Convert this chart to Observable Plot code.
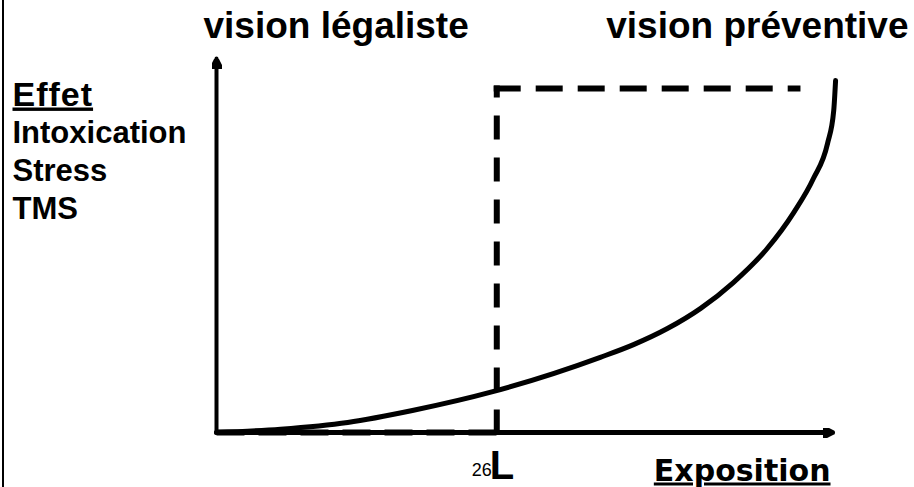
<!DOCTYPE html>
<html>
<head>
<meta charset="utf-8">
<script src="https://cdn.jsdelivr.net/npm/d3@7"></script>
<script src="https://cdn.jsdelivr.net/npm/@observablehq/plot@0.6"></script>
<style>
  html, body { margin: 0; padding: 0; background: #fff; }
  #wrap { position: relative; width: 914px; height: 487px; overflow: hidden; }
  #border { position: absolute; left: 2px; top: 0; width: 2px; height: 487px; background: #000; }
</style>
</head>
<body>
<div id="wrap"><div id="border"></div></div>
<script>
// ---- data ----
const titles = ["vision légaliste", "vision préventive"];
const effectTitle = "Effet";
const effectLabels = ["Intoxication", "Stress", "TMS"];
const xLabel = "Exposition";
const limitLabel = "L";
const slideNumber = "26";

// exposure / effect curve (preventive view)
const curveX = [0, 10.4, 21.3, 31.8, 45.0, 62.3, 67.7, 73.2, 78.6, 83.9, 89.4, 93.7, 96.9, 99.2, 100.2, 100.5];
const curveY = [0, 0.9, 2.7, 5.9, 11.0, 20.1, 23.5, 27.8, 33.2, 40.1, 49.2, 58.8, 67.9, 77.3, 86.1, 94.1];

// legal view: step at limit L
const limitX = 45.5;
const limitTop = 92.0;
const limitEnd = 94.8;

// axes extents
const axisMax = 100;

// ---- build ----
const curve = curveX.map((x, i) => ({x, y: curveY[i]}));
const stepBottom = [{x: 0, y: 0}, {x: limitX, y: 0}];
const stepUp = [{x: limitX, y: limitTop + 0.8}, {x: limitX, y: 0}];
const stepTop = [{x: limitX - 0.5, y: limitTop}, {x: limitEnd, y: limitTop}];
const yAxisLine = [{x: 0, y: 0}, {x: 0, y: axisMax}];
const xAxisLine = [{x: 0, y: 0}, {x: axisMax, y: 0}];

function arrowHead(color) {
  const m = document.createElementNS("http://www.w3.org/2000/svg", "marker");
  m.setAttribute("viewBox", "-10 -5 10 10");
  m.setAttribute("markerWidth", 10);
  m.setAttribute("markerHeight", 10);
  m.setAttribute("markerUnits", "userSpaceOnUse");
  m.setAttribute("orient", "auto");
  m.setAttribute("refX", 0);
  m.setAttribute("refY", 0);
  const p = document.createElementNS("http://www.w3.org/2000/svg", "path");
  p.setAttribute("d", "M-10,-5L0,0L-10,5Z");
  p.setAttribute("fill", color);
  m.appendChild(p);
  return m;
}

const font = "'Liberation Sans', Arial, sans-serif";

const svg = Plot.plot({
  width: 914,
  height: 487,
  marginLeft: 216,
  marginRight: 82,
  marginTop: 58,
  marginBottom: 55,
  x: {domain: [0, 100], axis: null},
  y: {domain: [0, 100], axis: null},
  style: {background: "transparent", overflow: "visible", fontFamily: font},
  marks: [
    Plot.line(stepBottom, {x: "x", y: "y", stroke: "#000", strokeWidth: 6, strokeDasharray: "28,14", strokeLinecap: "butt"}),
    Plot.line(stepUp, {x: "x", y: "y", stroke: "#000", strokeWidth: 6, strokeDasharray: "24,18", strokeDashoffset: 12, strokeLinecap: "butt"}),
    Plot.line(stepTop, {x: "x", y: "y", stroke: "#000", strokeWidth: 6, strokeDasharray: "27,15", strokeLinecap: "butt"}),
    Plot.line(yAxisLine, {x: "x", y: "y", stroke: "#000", strokeWidth: 4, markerEnd: arrowHead}),
    Plot.line(xAxisLine, {x: "x", y: "y", stroke: "#000", strokeWidth: 5, markerEnd: arrowHead}),
    Plot.line(curve, {x: "x", y: "y", stroke: "#000", strokeWidth: 5, curve: "monotone-x"}),
    Plot.text([titles[0]], {frameAnchor: "top-left", text: d => d, textAnchor: "start", lineAnchor: "bottom",
      dx: -13, dy: -21, fontSize: 37, fontWeight: "bold", fill: "#000"}),
    Plot.text([titles[1]], {frameAnchor: "top-right", text: d => d, textAnchor: "end", lineAnchor: "bottom",
      dx: 76, dy: -21, fontSize: 37, fontWeight: "bold", fill: "#000"}),
    Plot.text([effectTitle], {frameAnchor: "top-left", text: d => d, textAnchor: "start", lineAnchor: "bottom",
      dx: -204, dy: 47, fontSize: 34, fontWeight: "bold", fill: "#000"}),
    Plot.text([effectLabels.join("\n")], {frameAnchor: "top-left", text: d => d, textAnchor: "start", lineAnchor: "bottom",
      dx: -204, dy: 160, fontSize: 31, lineHeight: 1.216, fontWeight: "bold", fill: "#000"}),
    Plot.text([limitLabel], {x: () => limitX, y: () => 0, text: d => d, textAnchor: "start", lineAnchor: "bottom",
      dx: -7, dy: 46, fontSize: 40, fontWeight: "bold", fill: "#000"}),
    Plot.text([slideNumber], {x: () => limitX, y: () => 0, text: d => d, textAnchor: "end", lineAnchor: "bottom",
      dx: -5, dy: 43, fontSize: 18, fill: "#000"}),
    Plot.text([xLabel], {x: () => axisMax, y: () => 0, text: d => d, textAnchor: "end", lineAnchor: "bottom",
      dx: -2, dy: 48, fontSize: 30, fontWeight: "bold", fill: "#000", fontFamily: "'DejaVu Sans', sans-serif"})
  ]
});

const sel = d3.select(svg).selectAll("text, tspan");
sel.filter(function () { return this.textContent === effectTitle || this.textContent === xLabel; })
  .style("text-decoration", "underline")
  .style("text-decoration-thickness", "3px")
  .style("text-underline-offset", "5px");
sel.filter(function () { return this.textContent === effectTitle; })
  .style("letter-spacing", "1px");

document.getElementById("wrap").appendChild(svg);
svg.style.position = "absolute";
svg.style.left = "0";
svg.style.top = "0";
</script>
</body>
</html>
